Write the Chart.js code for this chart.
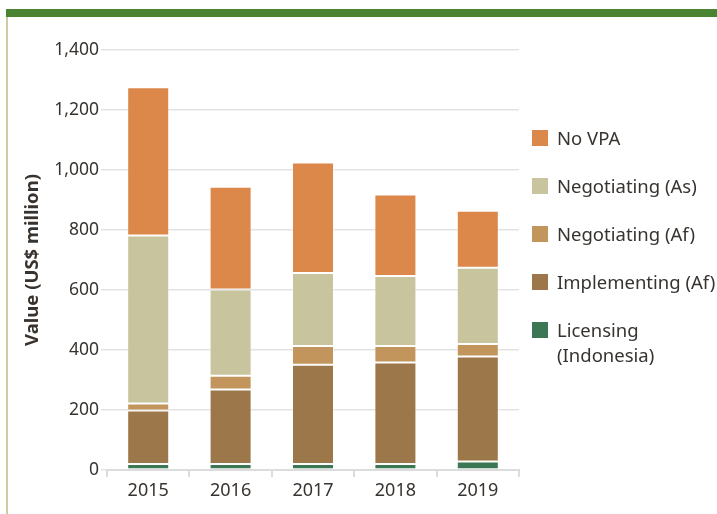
<!DOCTYPE html>
<html>
<head>
<meta charset="utf-8">
<script src="https://cdn.jsdelivr.net/npm/chart.js@4/dist/chart.umd.min.js"></script>
<style>
  html, body { margin: 0; padding: 0; background: #fff; }
  body { width: 717px; height: 514px; position: relative; overflow: hidden; font-family: "Noto Sans", sans-serif; }
  .band { position: absolute; left: 6px; top: 9px; width: 711px; height: 8px; background: #4a8432; }
  .edge { position: absolute; left: 6px; top: 17px; width: 2px; height: 497px; background: #cfcba4; }
  #wrap { position: absolute; left: 0; top: 0; width: 717px; height: 514px; }
  #legend { position: absolute; left: 532px; top: 125px; margin: 0; padding: 0; list-style: none; }
  #legend li { position: relative; padding-left: 25px; height: 48px; font-size: 18.5px; line-height: 25px; color: #38332f; }
  #legend li span.sw { position: absolute; left: 0; top: 5px; width: 16px; height: 16px; }
</style>
</head>
<body>
<div class="band"></div>
<div class="edge"></div>
<div id="wrap"><canvas id="chart"></canvas></div>
<ul id="legend"></ul>
<script>
// Export value by VPA status, US$ million
const years = ["2015", "2016", "2017", "2018", "2019"];
const licensing    = [20, 20, 20, 20, 28];
const implementing = [178, 248, 331, 338, 350];
const negotiatingAf = [24, 46, 62, 55, 42];
const negotiatingAs = [560, 288, 244, 234, 254];
const noVpa        = [494, 342, 368, 271, 190];

const seriesNames = ["Licensing\n(Indonesia)", "Implementing (Af)", "Negotiating (Af)", "Negotiating (As)", "No VPA"];
const seriesColors = ["#3c7755", "#9c774a", "#c1955c", "#c8c49e", "#db884a"];
const seriesValues = [licensing, implementing, negotiatingAf, negotiatingAs, noVpa];

const yTicks = [0, 200, 400, 600, 800, 1000, 1200, 1400];

const textColor = "#38332f";
const fontFamily = "'Noto Sans', sans-serif";

const datasets = seriesValues.map((vals, i) => ({
  label: seriesNames[i].replace("\n", " "),
  data: vals,
  backgroundColor: seriesColors[i],
  borderColor: "rgba(255,255,255,0.45)",
  borderWidth: 1,
  borderSkipped: false,
  categoryPercentage: 1,
  barPercentage: 0.51
}));

new Chart(document.getElementById("chart"), {
  type: "bar",
  data: { labels: years, datasets },
  options: {
    responsive: true,
    maintainAspectRatio: false,
    animation: false,
    layout: { padding: { left: 8, right: 198, top: 50, bottom: 0 } },
    plugins: { legend: { display: false }, tooltip: { enabled: false } },
    scales: {
      x: {
        stacked: true,
        grid: { offset: true, drawOnChartArea: false, drawTicks: true, tickLength: 7, color: "#dcdcdc", lineWidth: 2 },
        border: { display: true, color: "#dcdcdc", width: 2 },
        ticks: { color: textColor, font: { family: fontFamily, size: 18 }, padding: 3 },
        afterFit: (s) => { s.height = 44; }
      },
      y: {
        stacked: true,
        min: 0,
        max: 1400,
        afterBuildTicks: (s) => { s.ticks = yTicks.map(v => ({ value: v })); },
        grid: { color: "#e3e3e3", lineWidth: 1.5, drawTicks: true, tickLength: 6 },
        border: { display: false },
        ticks: {
          color: textColor,
          font: { family: fontFamily, size: 17.5 },
          padding: 2,
          callback: (v) => v.toLocaleString("en-US")
        },
        title: {
          display: true,
          text: "Value (US$ million)",
          color: textColor,
          font: { family: fontFamily, size: 18.5, weight: "bold" },
          padding: { top: 14, bottom: 4 }
        },
        afterFit: (s) => { s.width = 99; }
      }
    }
  }
});

// Legend, listed top-down in the same order as the stack
const legend = document.getElementById("legend");
for (let i = seriesNames.length - 1; i >= 0; i--) {
  const li = document.createElement("li");
  const sw = document.createElement("span");
  sw.className = "sw";
  sw.style.background = seriesColors[i];
  li.appendChild(sw);
  seriesNames[i].split("\n").forEach((line, k) => {
    if (k > 0) li.appendChild(document.createElement("br"));
    li.appendChild(document.createTextNode(line));
  });
  legend.appendChild(li);
}
</script>
</body>
</html>
